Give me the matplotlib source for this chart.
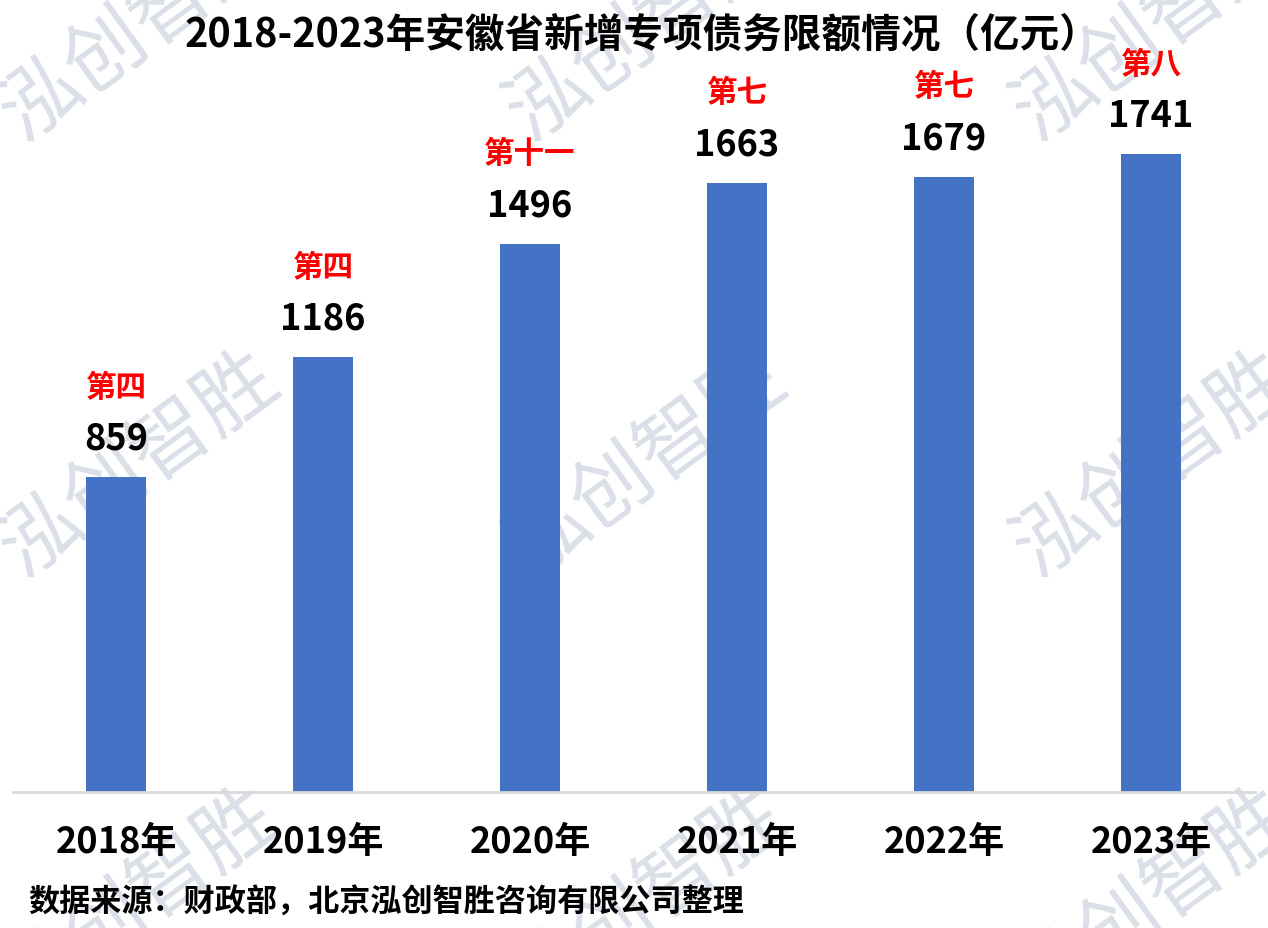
import matplotlib
matplotlib.use("Agg")
from matplotlib import pyplot as plt

plt.rcParams['font.family'] = ['Noto Sans CJK SC', 'DejaVu Sans']

# data
years = ["2018年", "2019年", "2020年", "2021年", "2022年", "2023年"]
limits = [859, 1186, 1496, 1663, 1679, 1741]
ranks = ["第四", "第四", "第十一", "第七", "第七", "第八"]

TITLE = "2018-2023年安徽省新增专项债务限额情况（亿元）"
SOURCE = "数据来源：财政部，北京泓创智胜咨询有限公司整理"
WATERMARK = "泓创智胜"

fig = plt.figure(figsize=(12.68, 9.29), dpi=100)

# watermark tiles, behind the chart (cut at the edges like the original)
for wx in [0.11, 0.51, 0.91]:
    for wy in [0.97, 0.50, 0.03]:
        fig.text(wx, wy, WATERMARK, fontsize=58, color="#DADFE8",
                 rotation=36, ha="center", va="center", zorder=0)

ax = fig.add_axes([0.0099, 0.1464, 0.9795, 0.789])
ax.set_facecolor("none")
ax.set_zorder(1)

x = range(len(years))
bars = ax.bar(x, limits, width=0.29, color="#4472C4", zorder=2)

ax.set_xlim(-0.5, len(years) - 0.5)
ax.set_ylim(0, 2000)

for i, (v, r) in enumerate(zip(limits, ranks)):
    ax.annotate(str(v), (i, v), xytext=(0, 28), textcoords="offset points",
                ha="center", va="center", fontsize=26, fontweight="bold",
                color="black")
    ax.annotate(r, (i, v), xytext=(0, 65), textcoords="offset points",
                ha="center", va="center", fontsize=22, fontweight="bold",
                color="#FF0000")

for s in ["top", "right", "left"]:
    ax.spines[s].set_visible(False)
ax.spines["bottom"].set_color("#D9D9D9")
ax.spines["bottom"].set_linewidth(2)
ax.set_yticks([])
ax.set_xticks(list(x))
ax.set_xticklabels(years, fontsize=26, fontweight="bold")
ax.tick_params(axis="x", length=0, pad=22)

fig.text(0.506, 0.962, TITLE, ha="center", va="center", fontsize=28.5,
         fontweight="bold", color="black")
fig.text(0.022, 0.028, SOURCE, ha="left", va="center", fontsize=22.4,
         fontweight="bold", color="black")

fig.savefig("out.png", dpi=100)
